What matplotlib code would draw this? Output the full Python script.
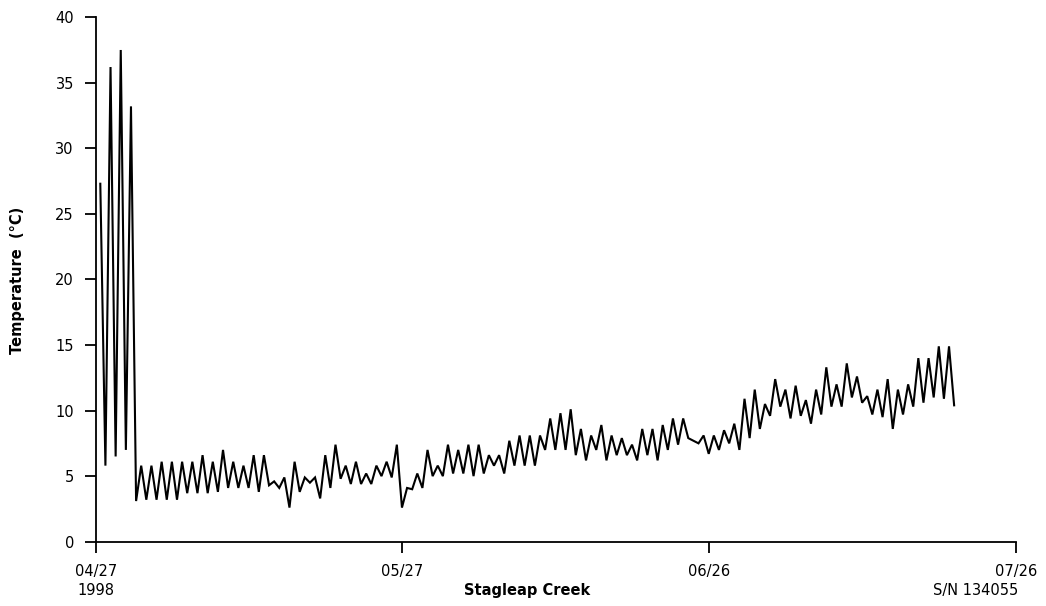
import matplotlib
matplotlib.use("Agg")
import matplotlib.pyplot as plt
import numpy as np

# Daily high / low water temperature (deg C), one entry per day from 04/27.
# The first four days the logger was still out of the water.
DAILY_MAX = [
    27.3, 36.2, 37.5, 33.2, 5.8, 5.8, 6.1, 6.1, 6.1, 6.1,
    6.6, 6.1, 7.0, 6.1, 5.8, 6.6, 6.6, 4.6, 4.9, 6.1,
    4.9, 4.9, 6.6, 7.4, 5.8, 6.1, 5.2, 5.8, 6.1, 7.4,
    4.1, 5.2, 7.0, 5.8, 7.4, 7.0, 7.4, 7.4, 6.6, 6.6,
    7.7, 8.1, 8.1, 8.1, 9.4, 9.8, 10.1, 8.6, 8.1, 8.9,
    8.1, 7.9, 7.4, 8.6, 8.6, 8.9, 9.4, 9.4, 7.7, 8.1,
    8.1, 8.5, 9.0, 10.9, 11.6, 10.5, 12.4, 11.6, 11.9, 10.8,
    11.6, 13.3, 12.0, 13.6, 12.6, 11.1, 11.6, 12.4, 11.6, 12.0,
    14.0, 14.0, 14.9, 14.9,
]
DAILY_MIN = [
    5.8, 6.5, 7.0, 3.1, 3.2, 3.2, 3.2, 3.2, 3.7, 3.7,
    3.7, 3.8, 4.1, 4.1, 4.1, 3.8, 4.3, 4.1, 2.6, 3.8,
    4.5, 3.3, 4.1, 4.8, 4.4, 4.4, 4.4, 5.0, 4.9, 2.6,
    4.0, 4.1, 5.0, 5.0, 5.2, 5.2, 5.0, 5.2, 5.8, 5.2,
    5.8, 5.8, 5.8, 7.0, 7.0, 7.0, 6.6, 6.2, 7.0, 6.2,
    6.6, 6.6, 6.2, 6.6, 6.2, 7.0, 7.4, 7.9, 7.5, 6.7,
    7.0, 7.5, 7.0, 7.9, 8.6, 9.6, 10.3, 9.4, 9.6, 9.0,
    9.7, 10.3, 10.3, 11.0, 10.6, 9.7, 9.5, 8.6, 9.7, 10.3,
    10.6, 11.0, 10.9, 10.4,
]

X_TICKS = [0, 30, 60, 90]
X_TICK_LABELS = ["04/27\n1998", "05/27", "06/26", "07/26"]
Y_TICKS = list(range(0, 41, 5))

SITE = "Stagleap Creek"
SERIAL = "S/N 134055"
Y_LABEL = "Temperature  (\u00b0C)"

W, H = 1046, 606

# afternoon high, early-morning low
days = np.arange(len(DAILY_MAX))
t = np.column_stack([days + 0.45, days + 0.95]).ravel()
temps = np.column_stack([DAILY_MAX, DAILY_MIN]).ravel()

plt.rcParams["font.family"] = "DejaVu Sans"

fig = plt.figure(figsize=(W / 100, H / 100), dpi=100)
ax = fig.add_axes([95.7 / W, 1 - 541.7 / H, (1016 - 95.7) / W, (541.7 - 17.2) / H])

ax.plot(t, temps, color="black", lw=1.5, solid_joinstyle="miter")

ax.set_xlim(0, 90)
ax.set_ylim(0, 40)
ax.set_xticks(X_TICKS)
ax.set_xticklabels(X_TICK_LABELS, linespacing=1.3)
ax.set_yticks(Y_TICKS)

for side in ("top", "right"):
    ax.spines[side].set_visible(False)
for side in ("left", "bottom"):
    ax.spines[side].set_linewidth(1.3)

ax.tick_params(axis="x", length=8, width=1.3, pad=8, labelsize=10.5)
ax.tick_params(axis="y", length=7.7, width=1.3, pad=8, labelsize=10.5)

fig.text(18 / W, 1 - 280 / H, Y_LABEL, rotation=90, ha="center", va="center",
         fontsize=10.5, fontweight="bold")
fig.text(527 / W, 1 - 590 / H, SITE, ha="center", va="center",
         fontsize=10.5, fontweight="bold")
fig.text(1018 / W, 1 - 590 / H, SERIAL, ha="right", va="center", fontsize=10.5)

fig.savefig("out.png", dpi=100)
